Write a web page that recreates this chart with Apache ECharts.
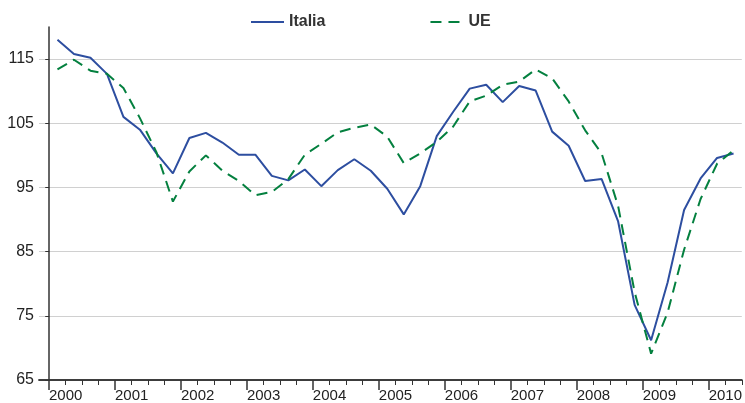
<!DOCTYPE html>
<html>
<head>
<meta charset="utf-8">
<script src="https://cdn.jsdelivr.net/npm/echarts@6/dist/echarts.min.js"></script>
<style>
  html, body { margin: 0; padding: 0; background: #fff; }
  #chart { width: 745px; height: 403px; }
</style>
</head>
<body>
<div id="chart"></div>
<script>
  // quarterly index, 2000 Q1 .. 2010 Q2
  let years = ['2000', '2001', '2002', '2003', '2004', '2005', '2006', '2007', '2008', '2009', '2010']
  let italia = [
    118.0, 115.8, 115.2, 112.7,
    106.0, 104.0, 100.3, 97.2,
    102.7, 103.5, 102.0, 100.1,
    100.1, 96.8, 96.1, 97.8,
    95.2, 97.7, 99.4, 97.6,
    94.8, 90.8, 95.2, 103.0,
    106.8, 110.4, 111.0, 108.3,
    110.8, 110.1, 103.7, 101.5,
    96.0, 96.3, 89.7, 76.7,
    71.2, 80.2, 91.5, 96.4,
    99.6, 100.3
  ]
  let ue = [
    113.4, 114.9, 113.2, 112.7,
    110.5, 105.8, 100.5, 92.8,
    97.5, 100.0, 97.6, 96.0,
    93.8, 94.3, 96.3, 100.1,
    101.8, 103.6, 104.3, 104.8,
    102.9, 98.8, 100.3, 102.1,
    104.5, 108.4, 109.3, 111.0,
    111.5, 113.4, 112.0, 108.4,
    103.9, 100.3, 92.1, 78.7,
    69.1, 75.5, 85.3, 93.2,
    98.7, 100.8
  ]
  let yTicks = [65, 75, 85, 95, 105, 115]

  // each quarter sits in the middle of its slot
  function toPoints(values) {
    return values.map((v, i) => [i + 0.5, v])
  }

  let majorTicks = []
  let minorTicks = []
  let labelPos = []
  for (let q = 0; q <= italia.length; q++) {
    if (q % 4 === 0) majorTicks.push(q)
    else minorTicks.push(q)
  }
  years.forEach((y, i) => labelPos.push(i * 4 + 1))

  let axisColor = '#333'
  let font = 'Liberation Sans, Arial, sans-serif'
  let xCommon = {
    type: 'value',
    position: 'bottom',
    min: -0.62,
    max: italia.length,
    splitLine: { show: false },
    axisLine: { show: true, lineStyle: { color: axisColor, width: 1.5 } }
  }

  let chart = echarts.init(document.getElementById('chart'))
  chart.setOption({
    animation: false,
    grid: { left: 39, right: 1, top: 27, bottom: 21, containLabel: false },
    legend: {
      left: 250,
      top: 14,
      padding: 0,
      itemWidth: 33,
      itemHeight: 14,
      itemGap: 104,
      itemStyle: { opacity: 0 },
      textStyle: { fontFamily: font, fontSize: 16, fontWeight: 'bold', color: '#333' },
      data: ['Italia', 'UE']
    },
    xAxis: [
      Object.assign({}, xCommon, {
        axisTick: { show: true, length: 10, customValues: majorTicks, lineStyle: { color: axisColor, width: 1.5 } },
        axisLabel: {
          show: true,
          customValues: labelPos,
          margin: 8,
          fontFamily: font,
          fontSize: 15,
          color: '#222',
          formatter: v => years[(v - 1) / 4]
        }
      }),
      Object.assign({}, xCommon, {
        axisTick: { show: true, length: 5, customValues: minorTicks, lineStyle: { color: axisColor, width: 1 } },
        axisLabel: { show: false }
      })
    ],
    yAxis: {
      type: 'value',
      min: 65,
      max: 120,
      axisLine: { show: true, lineStyle: { color: axisColor, width: 1.5 } },
      axisTick: { show: true, length: 4, customValues: yTicks, lineStyle: { color: axisColor } },
      axisLabel: {
        customValues: yTicks,
        margin: 5,
        fontFamily: font,
        fontSize: 16,
        color: '#222'
      },
      splitLine: { show: true, lineStyle: { color: '#d0d0d0', width: 1.2 } }
    },
    series: [
      {
        name: 'Italia',
        type: 'line',
        symbol: 'none',
        xAxisIndex: 0,
        data: toPoints(italia),
        itemStyle: { color: '#2d4ea0' },
        lineStyle: { color: '#2d4ea0', width: 2 }
      },
      {
        name: 'UE',
        type: 'line',
        symbol: 'none',
        xAxisIndex: 0,
        data: toPoints(ue),
        itemStyle: { color: '#04803f' },
        lineStyle: { color: '#04803f', width: 2, type: [11, 7] }
      }
    ]
  })
</script>
</body>
</html>
